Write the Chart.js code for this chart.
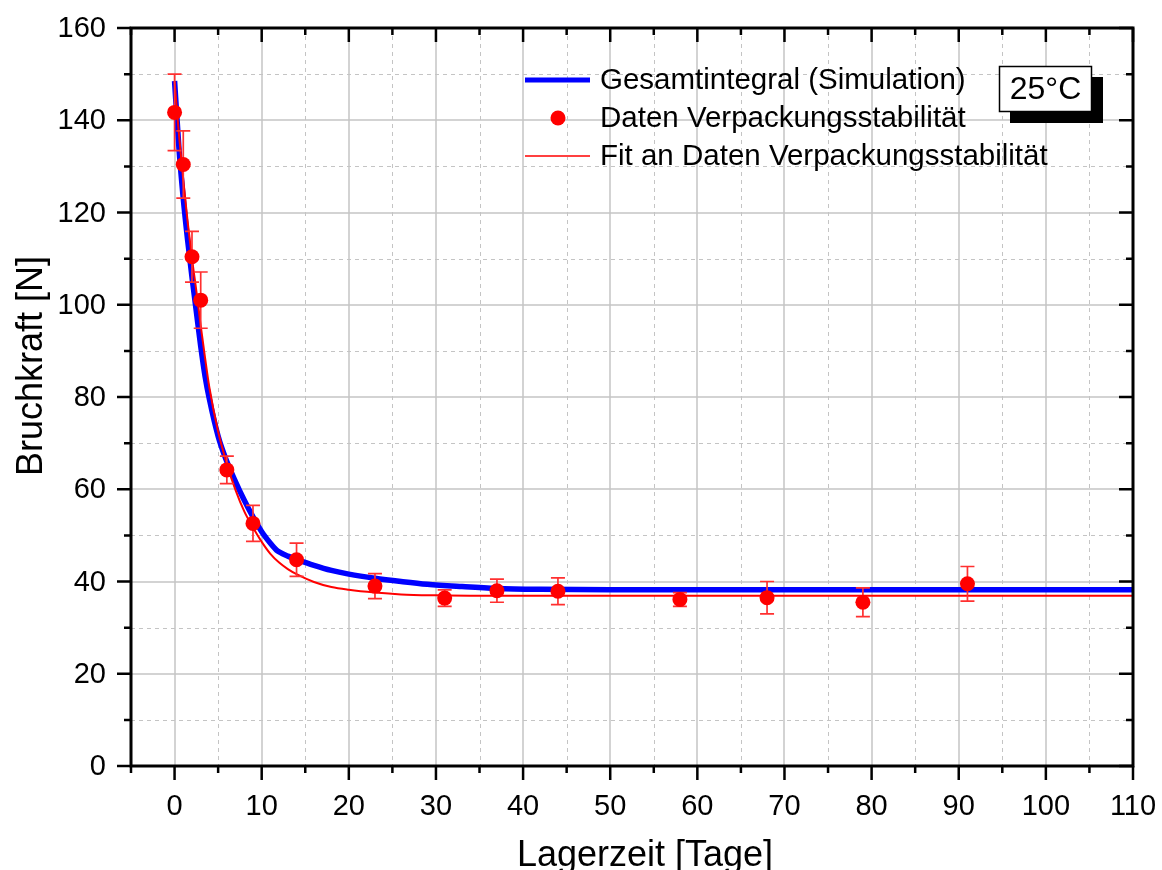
<!DOCTYPE html>
<html>
<head>
<meta charset="utf-8">
<script src="https://cdn.jsdelivr.net/npm/chart.js@4.4.1/dist/chart.umd.min.js"></script>
<style>
  html, body { margin: 0; padding: 0; background: #ffffff; }
  #wrap { width: 1162px; height: 870px; }
</style>
</head>
<body>
<div id="wrap"><canvas id="chart" width="1162" height="870"></canvas></div>
<script>
// Measured breaking force (mean and error) per storage day
const dayData   = [0, 1, 2, 3, 6, 9, 14, 23, 31, 37, 44, 58, 68, 79, 91];
const forceData = [141.7, 130.4, 110.4, 101.0, 64.2, 52.6, 44.7, 39.0, 36.4, 38.0, 37.9, 36.1, 36.5, 35.5, 39.5];
const forceErr  = [8.3, 7.3, 5.5, 6.1, 3.0, 3.9, 3.6, 2.7, 1.8, 2.5, 2.9, 1.5, 3.5, 3.1, 3.75];

// Simulated total integral curve
const simDays  = [0, 0.5, 1, 1.5, 2, 2.5, 3, 3.5, 4, 5, 6, 7, 8, 9, 10, 11, 11.7, 12, 13, 14, 16, 18, 20, 23, 26, 29, 33, 37, 42, 50, 60, 80, 110];
const simForce = [148.5, 134, 123, 114, 106, 98.5, 91, 84.5, 79.5, 71.5, 66, 61.6, 57.6, 54, 50.8, 48.3, 46.8, 46.4, 45.5, 44.8, 43.5, 42.4, 41.6, 40.7, 40.0, 39.4, 38.9, 38.5, 38.3, 38.2, 38.2, 38.2, 38.2];

// Fit curve through the packaging-stability data
const fitDays  = [0, 0.5, 1, 1.5, 2, 2.5, 3, 3.5, 4, 5, 6, 7, 8, 9, 10, 11, 12, 13, 14, 16, 18, 20, 23, 26, 30, 35, 40, 50, 110];
const fitForce = [148.5, 137, 127, 118, 110, 103, 95.5, 88.5, 82, 72.5, 65.5, 59.8, 55.2, 51.7, 48.6, 46, 44.1, 42.7, 41.6, 39.9, 38.8, 38.2, 37.6, 37.2, 37.0, 36.9, 36.9, 36.9, 36.9];

// Axis ticks
const xMajorTicks = [0, 10, 20, 30, 40, 50, 60, 70, 80, 90, 100, 110];
const xMinorTicks = [-5, 5, 15, 25, 35, 45, 55, 65, 75, 85, 95, 105];
const yMajorTicks = [0, 20, 40, 60, 80, 100, 120, 140, 160];
const yMinorTicks = [10, 30, 50, 70, 90, 110, 130, 150];

const seriesNames = ['Gesamtintegral (Simulation)', 'Daten Verpackungsstabilität', 'Fit an Daten Verpackungsstabilität'];
const xTitle = 'Lagerzeit [Tage]';
const yTitle = 'Bruchkraft [N]';
const tempLabel = '25°C';

const FONT = '"Liberation Sans", Arial, sans-serif';
const toXY = (xs, ys) => xs.map((x, i) => ({ x: x, y: ys[i] }));

// Grid lines behind the curves
const gridPlugin = {
  id: 'gridPlugin',
  beforeDatasetsDraw(chart) {
    const { ctx, chartArea: a, scales: { x, y } } = chart;
    ctx.save();
    ctx.strokeStyle = '#c4c4c4';
    ctx.lineWidth = 1;
    ctx.setLineDash([4, 4]);
    xMinorTicks.forEach(v => {
      const px = Math.round(x.getPixelForValue(v)) + 0.5;
      if (px <= a.left + 2 || px >= a.right - 2) return;
      ctx.beginPath(); ctx.moveTo(px, a.top); ctx.lineTo(px, a.bottom); ctx.stroke();
    });
    yMinorTicks.forEach(v => {
      const py = Math.round(y.getPixelForValue(v)) + 0.5;
      ctx.beginPath(); ctx.moveTo(a.left, py); ctx.lineTo(a.right, py); ctx.stroke();
    });
    ctx.setLineDash([]);
    ctx.lineWidth = 1.5;
    xMajorTicks.forEach(v => {
      const px = Math.round(x.getPixelForValue(v));
      if (px <= a.left + 2 || px >= a.right - 2) return;
      ctx.beginPath(); ctx.moveTo(px, a.top); ctx.lineTo(px, a.bottom); ctx.stroke();
    });
    yMajorTicks.forEach(v => {
      const py = Math.round(y.getPixelForValue(v));
      if (py <= a.top + 2 || py >= a.bottom - 2) return;
      ctx.beginPath(); ctx.moveTo(a.left, py); ctx.lineTo(a.right, py); ctx.stroke();
    });
    ctx.restore();
  }
};

// Error bars drawn just below the data markers
const errorBarPlugin = {
  id: 'errorBarPlugin',
  beforeDatasetDraw(chart, args) {
    if (args.index !== 0) return;
    const { ctx, scales: { x, y } } = chart;
    ctx.save();
    ctx.strokeStyle = '#ff3030';
    ctx.lineWidth = 1.7;
    dayData.forEach((d, i) => {
      const px = x.getPixelForValue(d);
      const top = y.getPixelForValue(forceData[i] + forceErr[i]);
      const bot = y.getPixelForValue(forceData[i] - forceErr[i]);
      ctx.beginPath();
      ctx.moveTo(px, top); ctx.lineTo(px, bot);
      ctx.moveTo(px - 7, top); ctx.lineTo(px + 7, top);
      ctx.moveTo(px - 7, bot); ctx.lineTo(px + 7, bot);
      ctx.stroke();
    });
    ctx.restore();
  }
};

// Frame, ticks, labels, titles, legend and temperature box
const framePlugin = {
  id: 'framePlugin',
  afterDraw(chart) {
    const { ctx, chartArea: a, scales: { x, y } } = chart;
    ctx.save();
    ctx.strokeStyle = '#000';
    ctx.lineWidth = 3;
    ctx.lineCap = 'square';
    ctx.strokeRect(a.left, a.top, a.right - a.left, a.bottom - a.top);
    ctx.lineCap = 'butt';
    ctx.lineWidth = 2.5;
    const MAJ = 14, MIN = 7;
    ctx.beginPath();
    xMajorTicks.forEach(v => {
      const px = x.getPixelForValue(v);
      ctx.moveTo(px, a.bottom); ctx.lineTo(px, a.bottom + MAJ);
      ctx.moveTo(px, a.top); ctx.lineTo(px, a.top + MAJ);
    });
    xMinorTicks.forEach(v => {
      const px = x.getPixelForValue(v);
      ctx.moveTo(px, a.bottom); ctx.lineTo(px, a.bottom + MIN);
      ctx.moveTo(px, a.top); ctx.lineTo(px, a.top + MIN);
    });
    yMajorTicks.forEach(v => {
      const py = y.getPixelForValue(v);
      ctx.moveTo(a.left, py); ctx.lineTo(a.left - MAJ, py);
      ctx.moveTo(a.right, py); ctx.lineTo(a.right - MAJ, py);
    });
    yMinorTicks.forEach(v => {
      const py = y.getPixelForValue(v);
      ctx.moveTo(a.left, py); ctx.lineTo(a.left - MIN, py);
      ctx.moveTo(a.right, py); ctx.lineTo(a.right - MIN, py);
    });
    ctx.stroke();

    // tick labels
    ctx.fillStyle = '#000';
    ctx.font = '29px ' + FONT;
    ctx.textAlign = 'center';
    ctx.textBaseline = 'middle';
    xMajorTicks.forEach(v => ctx.fillText(String(v), x.getPixelForValue(v), a.bottom + 41));
    ctx.textAlign = 'right';
    yMajorTicks.forEach(v => ctx.fillText(String(v), a.left - 25, y.getPixelForValue(v) + 1));

    // axis titles
    ctx.font = '36px ' + FONT;
    ctx.textAlign = 'center';
    ctx.textBaseline = 'alphabetic';
    ctx.fillText(xTitle, (a.left + a.right) / 2 + 13, 866);
    ctx.save();
    ctx.translate(42, 366);
    ctx.rotate(-Math.PI / 2);
    ctx.fillText(yTitle, 0, 0);
    ctx.restore();

    // legend
    const rows = [80, 118, 156];
    ctx.font = '29.5px ' + FONT;
    ctx.textAlign = 'left';
    ctx.textBaseline = 'middle';
    ctx.strokeStyle = '#0000ff';
    ctx.lineWidth = 5;
    ctx.beginPath(); ctx.moveTo(525, rows[0]); ctx.lineTo(590, rows[0]); ctx.stroke();
    ctx.fillStyle = '#ff0000';
    ctx.beginPath(); ctx.arc(558, rows[1], 7.5, 0, Math.PI * 2); ctx.fill();
    ctx.strokeStyle = '#ff4040';
    ctx.lineWidth = 2;
    ctx.beginPath(); ctx.moveTo(525, rows[2]); ctx.lineTo(590, rows[2]); ctx.stroke();
    ctx.fillStyle = '#000';
    seriesNames.forEach((n, i) => ctx.fillText(n, 600, rows[i] + 1));

    // temperature box with drop shadow
    ctx.fillStyle = '#000';
    ctx.fillRect(1010, 77, 93, 46);
    ctx.fillStyle = '#fff';
    ctx.fillRect(999, 66, 93, 46);
    ctx.strokeStyle = '#000';
    ctx.lineWidth = 1.5;
    ctx.strokeRect(999.5, 66.5, 92, 45);
    ctx.fillStyle = '#000';
    ctx.font = '32px ' + FONT;
    ctx.textAlign = 'center';
    ctx.fillText(tempLabel, 1045.5, 90);
    ctx.restore();
  }
};

new Chart(document.getElementById('chart'), {
  type: 'scatter',
  data: {
    datasets: [
      {
        label: seriesNames[1],
        data: toXY(dayData, forceData),
        backgroundColor: '#ff0000',
        borderColor: '#ff0000',
        borderWidth: 0,
        pointRadius: 7.5,
        pointHoverRadius: 7.5,
        showLine: false,
        order: 0
      },
      {
        label: seriesNames[2],
        data: toXY(fitDays, fitForce),
        borderColor: '#ff0000',
        borderWidth: 2,
        pointRadius: 0,
        showLine: true,
        cubicInterpolationMode: 'monotone',
        order: 1
      },
      {
        label: seriesNames[0],
        data: toXY(simDays, simForce),
        borderColor: '#0000ff',
        borderWidth: 5.5,
        pointRadius: 0,
        showLine: true,
        cubicInterpolationMode: 'monotone',
        order: 2
      }
    ]
  },
  options: {
    responsive: false,
    animation: false,
    devicePixelRatio: 1,
    layout: { padding: { left: 131, right: 29, top: 28, bottom: 104 } },
    plugins: { legend: { display: false }, tooltip: { enabled: false } },
    scales: {
      x: { type: 'linear', min: -5, max: 110, display: false },
      y: { type: 'linear', min: 0, max: 160, display: false }
    }
  },
  plugins: [gridPlugin, errorBarPlugin, framePlugin]
});
</script>
</body>
</html>
